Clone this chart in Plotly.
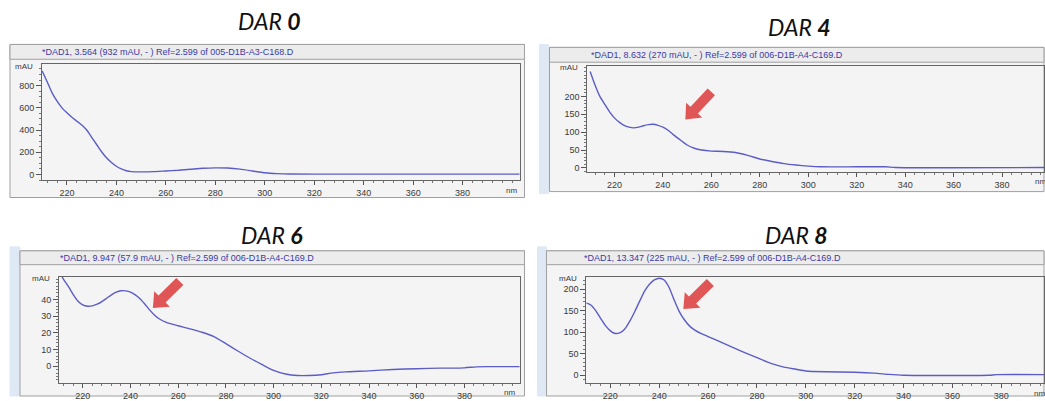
import plotly.graph_objects as go

W, H = 1045, 401

# ---- spectra (wavelength in nm, absorbance in mAU) ----
wl_dar0 = [210, 212, 214, 216, 218, 220, 222, 224, 226, 228, 230, 232, 234, 236, 238, 240,
           242, 244, 246, 250, 255, 260, 265, 270, 275, 280, 285, 290, 295, 300, 305, 310,
           330, 360, 404]
mau_dar0 = [932, 835, 735, 660, 600, 555, 515, 480, 445, 400, 335, 270, 205, 150, 108, 74,
            50, 34, 26, 24, 26, 32, 38, 47, 56, 60, 58, 48, 32, 16, 8, 4,
            3, 3, 3]

wl_dar4 = [210, 212, 214, 216, 218, 220, 222, 224, 226, 228, 230, 232, 234, 236, 238, 240,
           242, 244, 246, 248, 250, 253, 256, 260, 265, 270, 275, 280, 285, 290, 295, 300,
           305, 320, 332, 336, 400]
mau_dar4 = [270, 232, 200, 178, 157, 140, 128, 119, 114, 112, 114, 118, 121, 122, 119, 114,
            106, 95, 84, 74, 64, 55, 50, 47, 46, 43, 35, 25, 18, 12, 8, 5,
            3, 3, 3, 1, 1]

wl_dar6 = [210, 211, 212, 214, 216, 218, 220, 222, 224, 226, 228, 230, 232, 234, 236, 238,
           240, 242, 244, 246, 248, 250, 252, 255, 260, 265, 270, 275, 280, 285, 290, 295,
           300, 305, 310, 315, 320, 325, 330, 340, 350, 360, 370, 380, 385, 390, 404]
mau_dar6 = [57.9, 54.5, 52, 47.8, 43, 39, 36.8, 36, 36.2, 37.2, 38.8, 40.8, 42.8, 44.4, 45.3, 45.2,
            44.5, 42.8, 40.5, 37.3, 33.8, 30.8, 28.5, 26.3, 24.3, 22.4, 20.4, 17.8, 13.6, 9.2, 5, 1.2,
            -2.4, -4.6, -5.5, -5.5, -5, -3.9, -3.3, -2.7, -1.9, -1.4, -1.1, -0.9, -0.3, -0.2, -0.2]

wl_dar8 = [210, 212, 214, 216, 218, 220, 222, 224, 226, 228, 230, 232, 234, 236, 238, 240,
           242, 244, 246, 248, 250, 253, 257, 262, 268, 274, 280, 286, 291, 296, 300, 308,
           320, 328, 334, 340, 375, 378, 400]
mau_dar8 = [168, 163, 150, 132, 115, 103, 97, 99, 108, 126, 148, 172, 195, 211, 221, 225,
            221, 204, 176, 150, 131, 111, 97, 85, 70, 55, 41, 27, 19, 14, 10, 8,
            7, 5, 2, 0, 0, 1.5, 1.5]

titles = ["0", "4", "6", "8"]
headers = [
    "*DAD1, 3.564 (932 mAU, - ) Ref=2.599 of 005-D1B-A3-C168.D",
    "*DAD1, 8.632 (270 mAU, - ) Ref=2.599 of 006-D1B-A4-C169.D",
    "*DAD1, 9.947 (57.9 mAU, - ) Ref=2.599 of 006-D1B-A4-C169.D",
    "*DAD1, 13.347 (225 mAU, - ) Ref=2.599 of 006-D1B-A4-C169.D",
]
x_ticks = [220, 240, 260, 280, 300, 320, 340, 360, 380]
y_ticks = [
    [0, 200, 400, 600, 800],
    [0, 50, 100, 150, 200],
    [0, 10, 20, 30, 40],
    [0, 50, 100, 150, 200],
]

series = [(wl_dar0, mau_dar0), (wl_dar4, mau_dar4), (wl_dar6, mau_dar6), (wl_dar8, mau_dar8)]

# ---- panel geometry (pixels) ----
panels = [
    dict(plot=(42, 65, 520, 182.7), xr=(209.9, 403.0), yr=(-53.3, 993), ymin=50,
         win=(10, 45, 525, 200), head=(10, 45, 525, 60), strip=None,
         title=(270, 21), htext=(40, 52.5), nm=512),
    dict(plot=(588, 66.7, 1045, 174), xr=(208.87, 397.3), yr=(-11.06, 285.6), ymin=10,
         win=(550, 48, 1045, 194), head=(550, 48, 1045, 63), strip=(540, 45, 549, 196),
         title=(800, 27), htext=(590, 55.5), nm=1041),
    dict(plot=(59, 280, 520, 387.7), xr=(210.0, 403.1), yr=(-9.9, 53.8), ymin=2,
         win=(20, 254, 525, 401), head=(20, 254, 525, 268), strip=(10, 250, 20, 401),
         title=(272, 238), htext=(58, 261), nm=510),
    dict(plot=(587, 280, 1045, 388), xr=(210.2, 397.5), yr=(-18.3, 229), ymin=10,
         win=(547, 254, 1045, 401), head=(547, 254, 1045, 268), strip=(538, 250, 547, 401),
         title=(797, 238), htext=(583, 261), nm=1040),
]

arrows = [None, ((712, 93), (686, 121)), ((180, 285), (153, 312)), ((711, 286), (684, 313))]


def px(x):
    return x / W


def py(y):
    return 1 - y / H


def rect(box, fill, line):
    x0, y0, x1, y1 = box
    return dict(type="rect", xref="paper", yref="paper", x0=px(x0), y0=py(y1), x1=px(x1), y1=py(y0),
                fillcolor=fill, line=dict(color=line, width=1), layer="below")


def block_arrow(tail, tip, shaft=10, head_w=22, head_l=13):
    tx, ty = tail
    hx, hy = tip
    dx, dy = hx - tx, hy - ty
    length = (dx * dx + dy * dy) ** 0.5
    ux, uy = dx / length, dy / length
    nx, ny = -uy, ux
    bx, by = hx - ux * head_l, hy - uy * head_l
    pts = [
        (tx + nx * shaft / 2, ty + ny * shaft / 2),
        (bx + nx * shaft / 2, by + ny * shaft / 2),
        (bx + nx * head_w / 2, by + ny * head_w / 2),
        (hx, hy),
        (bx - nx * head_w / 2, by - ny * head_w / 2),
        (bx - nx * shaft / 2, by - ny * shaft / 2),
        (tx - nx * shaft / 2, ty - ny * shaft / 2),
    ]
    path = "M " + " L ".join(f"{px(x):.5f},{py(y):.5f}" for x, y in pts) + " Z"
    return dict(type="path", xref="paper", yref="paper", path=path,
                fillcolor="#e05555", line=dict(width=0), layer="above")


fig = go.Figure()
shapes, annotations = [], []
tick_font = dict(family="Liberation Sans, Arial", size=9, color="#3a3a3a")

for i, (p, (wl, mau)) in enumerate(zip(panels, series)):
    n = "" if i == 0 else str(i + 1)
    x0, y0, x1, y1 = p["plot"]
    fig.add_trace(go.Scatter(
        x=wl, y=mau, mode="lines", xaxis="x" + n, yaxis="y" + n,
        line=dict(color="#5c5cc6", width=1.4, shape="spline", smoothing=0.6),
        showlegend=False, hoverinfo="skip",
    ))
    fig.layout["xaxis" + n] = dict(
        domain=[px(x0), px(x1)], range=list(p["xr"]), anchor="y" + n,
        tickvals=x_ticks, ticks="outside", ticklen=4, tickcolor="#555",
        minor=dict(dtick=4, tick0=0, ticks="outside", ticklen=2, tickcolor="#777"),
        showgrid=False, zeroline=False, showline=True, linecolor="#666", linewidth=1,
        mirror=True, tickfont=tick_font, fixedrange=True,
    )
    fig.layout["yaxis" + n] = dict(
        domain=[py(y1), py(y0)], range=list(p["yr"]), anchor="x" + n,
        tickvals=y_ticks[i], ticks="outside", ticklen=5, tickcolor="#555",
        minor=dict(dtick=p["ymin"], tick0=0, ticks="outside", ticklen=2, tickcolor="#777"),
        showgrid=False, zeroline=False, showline=True, linecolor="#666", linewidth=1,
        mirror=True, tickfont=tick_font, fixedrange=True,
    )

    # window chrome
    if p["strip"]:
        shapes.append(rect(p["strip"], "#dfe9f6", "#dfe9f6"))
    shapes.append(rect(p["win"], "#f4f4f4", "#a0a0a0"))
    shapes.append(rect(p["head"], "#ececec", "#a0a0a0"))

    annotations.append(dict(
        x=px(p["htext"][0]), y=py(p["htext"][1]), xref="paper", yref="paper",
        text=headers[i], showarrow=False, xanchor="left", yanchor="middle",
        font=dict(family="Liberation Sans, Arial", size=9, color="#3a3aa8"),
    ))
    annotations.append(dict(
        x=px(p["title"][0]), y=py(p["title"][1]), xref="paper", yref="paper",
        text=f"<i>DAR <b>{titles[i]}</b></i>", showarrow=False, xanchor="center", yanchor="middle",
        font=dict(family="Lato", size=23, color="#111"),
    ))
    annotations.append(dict(
        x=px(x0 - 7), y=py(y0 + 2), xref="paper", yref="paper", text="mAU",
        showarrow=False, xanchor="right", yanchor="middle",
        font=dict(family="Liberation Sans, Arial", size=8, color="#3a3a3a"),
    ))
    annotations.append(dict(
        x=px(p["nm"]), y=py(y1 + 10), xref="paper", yref="paper", text="nm",
        showarrow=False, xanchor="center", yanchor="middle",
        font=dict(family="Liberation Sans, Arial", size=8, color="#3a3a3a"),
    ))
    if arrows[i]:
        shapes.append(block_arrow(*arrows[i]))

fig.update_layout(
    width=W, height=H, margin=dict(l=0, r=0, t=0, b=0),
    paper_bgcolor="white", plot_bgcolor="white",
    shapes=shapes, annotations=annotations,
)

fig.write_html("out.html")
